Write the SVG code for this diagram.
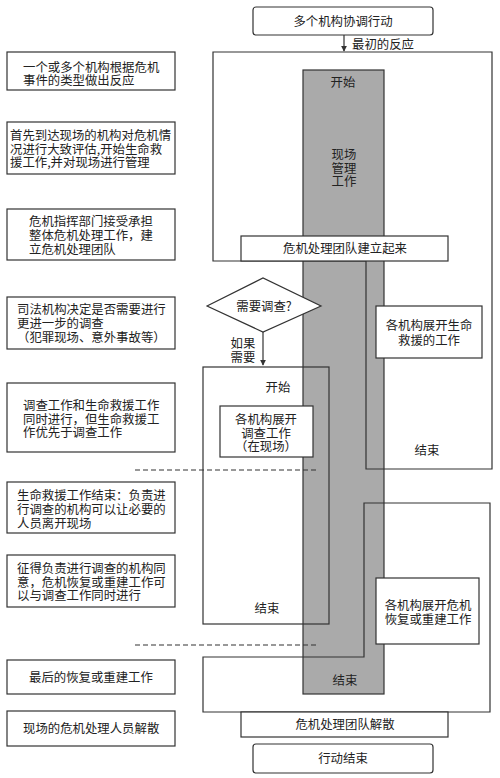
<svg xmlns="http://www.w3.org/2000/svg" width="500" height="778" viewBox="0 0 500 778">
<defs>
<style>
text{font-family:"Noto Sans CJK SC","Noto Sans CJK JP",sans-serif;font-size:12.4px;fill:#222;dominant-baseline:central}
.c{text-anchor:middle}
.box{fill:#fff;stroke:#333;stroke-width:1.2}
.ol{fill:none;stroke:#333;stroke-width:1.2}
.dash{fill:none;stroke:#333;stroke-width:1.2;stroke-dasharray:5 3}
</style>
<marker id="ah" viewBox="0 0 8 10" refX="7" refY="5" markerWidth="6" markerHeight="8" orient="auto" markerUnits="userSpaceOnUse">
<path d="M0,1 L8,5 L0,9 z" fill="#333"/>
</marker>
</defs>
<rect width="500" height="778" fill="#fff"/>

<g id="left-notes">
<g id="n1"><rect class="box" x="7" y="52" width="168" height="38"/><text x="23" y="67">一个或多个机构根据危机<tspan x="23" dy="13">事件的类型做出反应</tspan></text></g>
<g id="n2"><rect class="box" x="7" y="122" width="168" height="52"/><text x="10" y="135">首先到达现场的机构对危机情<tspan x="10" dy="13.5">况进行大致评估,开始生命救</tspan><tspan x="10" dy="13.5">援工作,并对现场进行管理</tspan></text></g>
<g id="n3"><rect class="box" x="7" y="209" width="168" height="51"/><text x="29" y="221">危机指挥部门接受承担<tspan x="29" dy="14">整体危机处理工作，建</tspan><tspan x="29" dy="14">立危机处理团队</tspan></text></g>
<g id="n4"><rect class="box" x="7" y="297" width="168" height="52"/><text x="17" y="309">司法机构决定是否需要进行<tspan x="17" dy="14">更进一步的调查</tspan><tspan x="17" dy="14">（犯罪现场、意外事故等）</tspan></text></g>
<g id="n5"><rect class="box" x="7" y="383" width="168" height="69"/><text x="23" y="405">调查工作和生命救援工作<tspan x="23" dy="13.5">同时进行，但生命救援工</tspan><tspan x="23" dy="13.5">作优先于调查工作</tspan></text></g>
<g id="n6"><rect class="box" x="7" y="482" width="168" height="51"/><text x="17" y="495">生命救援工作结束：负责进<tspan x="17" dy="14">行调查的机构可以让必要的</tspan><tspan x="17" dy="14">人员离开现场</tspan></text></g>
<g id="n7"><rect class="box" x="7" y="555" width="168" height="52"/><text x="17" y="568">征得负责进行调查的机构同<tspan x="17" dy="13.5">意，危机恢复或重建工作可</tspan><tspan x="17" dy="13.5">以与调查工作同时进行</tspan></text></g>
<g id="n8"><rect class="box" x="7" y="660" width="168" height="34"/><text x="29" y="677">最后的恢复或重建工作</text></g>
<g id="n9"><rect class="box" x="7" y="711" width="168" height="35"/><text x="23" y="728">现场的危机处理人员解散</text></g>
</g>

<g id="gray-column"><rect x="303" y="70" width="81" height="624" fill="#aaaaaa" stroke="#333" stroke-width="1.2"/>
<text class="c" x="343" y="82">开始</text>
<text class="c" x="344" y="154">现场<tspan x="344" dy="13.5">管理</tspan><tspan x="344" dy="13.5">工作</tspan></text>
<text class="c" x="345" y="680">结束</text>
</g>

<g id="life-rescue-region"><path class="ol" d="M213,52 H492 V469 H366 V261 H213 Z"/>
<text class="c" x="427" y="450">结束</text></g>

<g id="investigation-region"><rect class="ol" x="203" y="367" width="126" height="257"/>
<text class="c" x="278" y="387">开始</text>
<text class="c" x="267" y="608">结束</text></g>

<g id="recovery-region"><path class="ol" d="M364,503 H490 V712 H203 V657 H364 Z"/></g>

<g id="start"><rect class="box" x="253" y="7" width="180" height="28" rx="3"/><text class="c" x="343" y="21">多个机构协调行动</text></g>
<g id="team-built"><rect class="box" x="241" y="236" width="207" height="25"/><text class="c" x="345" y="248">危机处理团队建立起来</text></g>
<g id="decision"><polygon class="box" points="207,306 263,278 321,306 263,332"/><text class="c" x="264" y="306">需要调查?</text></g>
<g id="life-rescue"><rect class="box" x="376" y="306" width="106" height="52"/><text class="c" x="429" y="325">各机构展开生命<tspan x="429" dy="15">救援的工作</tspan></text></g>
<g id="investigation"><rect class="box" x="220" y="406" width="93" height="51"/><text class="c" x="266" y="419">各机构展开<tspan x="266" dy="13.5">调查工作</tspan><tspan x="266" dy="13.5">（在现场）</tspan></text></g>
<g id="recovery"><rect class="box" x="376" y="578" width="103" height="66"/><text class="c" x="428" y="605">各机构展开危机<tspan x="428" dy="14">恢复或重建工作</tspan></text></g>
<g id="team-dissolved"><rect class="box" x="241" y="712" width="207" height="25"/><text class="c" x="345" y="724">危机处理团队解散</text></g>
<g id="end"><rect class="box" x="253" y="744" width="180" height="29" rx="3"/><text class="c" x="343" y="758">行动结束</text></g>

<g id="connectors">
<line class="ol" x1="344" y1="35" x2="344" y2="51" marker-end="url(#ah)"/>
<text x="352" y="44">最初的反应</text>
<line class="ol" x1="263" y1="332" x2="263" y2="365" marker-end="url(#ah)"/>
<text class="c" x="243" y="343">如果<tspan x="243" dy="14">需要</tspan></text>
<line class="dash" x1="135" y1="470" x2="318" y2="470"/>
<line class="dash" x1="135" y1="645" x2="318" y2="645"/>
</g>
</svg>
